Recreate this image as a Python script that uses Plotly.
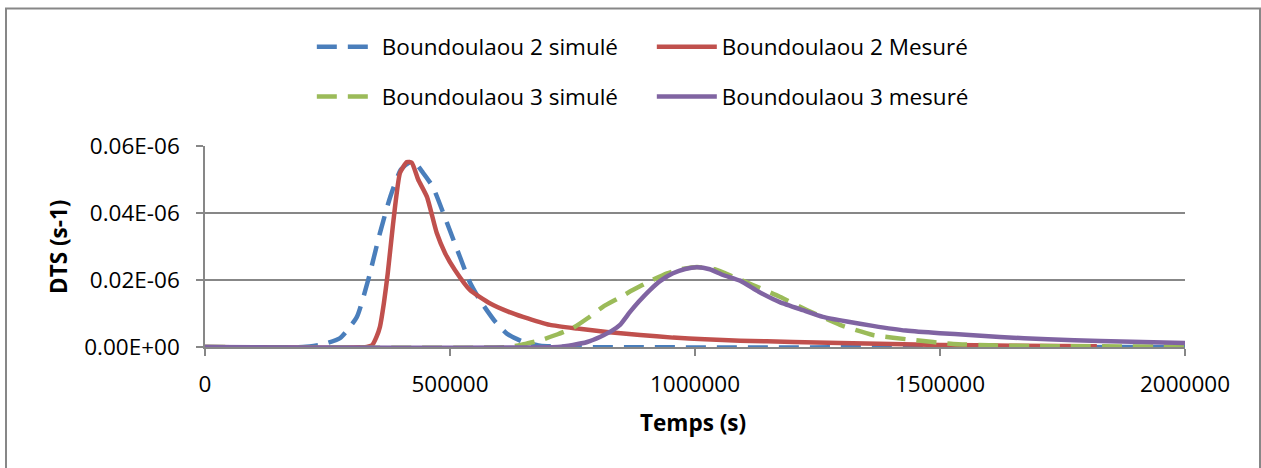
import plotly.graph_objects as go

# ---- data (y in units of 1E-06 s-1, as on the axis labels) ----
b2_sim_t = [0, 200000, 240000, 276000, 310000, 333000, 357000, 378000, 400000, 424000,
            445000, 465000, 494000, 520000, 540000, 561000, 590000, 616000, 650000, 684000,
            750000, 2000000]
b2_sim_y = [0, 0, 0.0008, 0.0027, 0.009, 0.020, 0.034, 0.0448, 0.053, 0.0556,
            0.052, 0.0478, 0.037, 0.027, 0.0195, 0.014, 0.008, 0.004, 0.0015, 0.0004,
            0, 0]

b2_mes_t = [0, 330000, 341000, 350000, 357000, 365000, 373000, 384000, 398000, 412000,
            422000, 435000, 453000, 473000, 490000, 510000, 541000, 582000, 620000, 649000,
            704000, 760000, 820000, 888000, 955000, 1020000, 1092000, 1200000, 1296000,
            1400000, 1500000, 1650000, 1820000]
b2_mes_y = [0, 0, 0.0005, 0.003, 0.006, 0.013, 0.022, 0.037, 0.052, 0.0552,
            0.055, 0.050, 0.0448, 0.034, 0.028, 0.023, 0.017, 0.013, 0.0105, 0.009,
            0.0066, 0.0055, 0.0045, 0.0036, 0.0028, 0.0023, 0.0019, 0.0015, 0.0012,
            0.0009, 0.0006, 0.0004, 0.0002]

b3_sim_t = [0, 620000, 650000, 684000, 720000, 751000, 780000, 812000, 843000, 873000,
            910000, 943000, 970000, 1004000, 1040000, 1078000, 1118000, 1173000, 1229000,
            1296000, 1363000, 1445000, 1527000, 1600000, 1690000, 2000000]
b3_sim_y = [0, 0, 0.0008, 0.002, 0.0038, 0.0057, 0.0085, 0.012, 0.0145, 0.017,
            0.0198, 0.022, 0.0232, 0.0239, 0.0232, 0.021, 0.0185, 0.015, 0.011,
            0.0066, 0.0036, 0.0021, 0.0009, 0.0005, 0.0003, 0.0001]

b3_mes_t = [0, 720000, 751000, 780000, 806000, 830000, 847000, 867000, 885000, 908000,
            930000, 955000, 980000, 1004000, 1030000, 1057000, 1092000, 1130000, 1173000,
            1220000, 1261000, 1310000, 1363000, 1430000, 1500000, 1560000, 1622000,
            1720000, 1827000, 2000000]
b3_mes_y = [0, 0, 0.0006, 0.0015, 0.003, 0.0048, 0.0066, 0.0104, 0.0135, 0.017,
            0.0198, 0.022, 0.0233, 0.0238, 0.0232, 0.0215, 0.0198, 0.0165, 0.0134,
            0.011, 0.009, 0.0076, 0.0063, 0.0049, 0.0041, 0.0036, 0.003,
            0.0023, 0.0018, 0.0012]

x_ticks = [0, 500000, 1000000, 1500000, 2000000]
x_tick_text = ["0", "500000", "1000000", "1500000", "2000000"]
y_ticks = [0, 0.02, 0.04, 0.06]
y_tick_text = ["0.00E+00", "0.02E-06", "0.04E-06", "0.06E-06"]

FONT = "Open Sans"
FS = 22.5
GRID = "#878787"
W = 4.5

fig = go.Figure()
fig.add_trace(go.Scatter(x=b2_sim_t, y=b2_sim_y, mode="lines", name="Boundoulaou 2 simulé",
                         line=dict(color="#4A7EBB", width=W, dash="20px,11px", shape="spline", smoothing=0.5),
                         legend="legend"))
fig.add_trace(go.Scatter(x=b2_mes_t, y=b2_mes_y, mode="lines", name="Boundoulaou 2 Mesuré",
                         line=dict(color="#C0504D", width=W, shape="spline", smoothing=0.5),
                         legend="legend"))
fig.add_trace(go.Scatter(x=b3_sim_t, y=b3_sim_y, mode="lines", name="Boundoulaou 3 simulé",
                         line=dict(color="#9BBB59", width=W, dash="20px,11px", shape="spline", smoothing=0.5),
                         legend="legend2"))
fig.add_trace(go.Scatter(x=b3_mes_t, y=b3_mes_y, mode="lines", name="Boundoulaou 3 mesuré",
                         line=dict(color="#8064A2", width=W, shape="spline", smoothing=0.5),
                         legend="legend2"))

legend_common = dict(orientation="h", xanchor="left", yanchor="middle", bgcolor="rgba(0,0,0,0)",
                     font=dict(family=FONT, size=FS, color="#000"), itemwidth=60,
                     entrywidth=265, xref="paper", yref="paper")

fig.update_layout(
    width=1261, height=468,
    margin=dict(l=205, r=76, t=146, b=121),
    paper_bgcolor="white", plot_bgcolor="white",
    font=dict(family=FONT, size=FS, color="#000"),
    showlegend=True,
    legend=dict(x=0.109, y=1.4925, **legend_common),
    legend2=dict(x=0.109, y=1.2438, **legend_common),
    xaxis=dict(range=[0, 2000000], tickvals=x_ticks, ticktext=x_tick_text,
               showgrid=False, zeroline=False, showline=True, linecolor=GRID, linewidth=1.5,
               ticks="outside", ticklen=7, tickcolor=GRID, tickwidth=1.5,
               tickfont=dict(family=FONT, size=FS, color="#000"), ticklabelstandoff=9),
    yaxis=dict(range=[0, 0.06], tickvals=y_ticks, ticktext=y_tick_text,
               showgrid=True, gridcolor=GRID, gridwidth=1.5, zeroline=False,
               showline=True, linecolor=GRID, linewidth=1.5,
               ticks="outside", ticklen=7, tickcolor=GRID, tickwidth=1.5,
               tickfont=dict(family=FONT, size=FS, color="#000"), ticklabelstandoff=12),
    shapes=[dict(type="rect", xref="paper", yref="paper",
                 x0=(6 - 205) / 980, x1=(1260 - 205) / 980,
                 y0=-0.7, y1=(347 - 8.5) / 201,
                 line=dict(color="#878787", width=2), fillcolor="rgba(0,0,0,0)", layer="below")],
    annotations=[
        dict(text="<b>DTS (s-1)</b>", xref="paper", yref="paper",
             x=(58 - 205) / 980, y=(347 - 247) / 201, textangle=-90, showarrow=False,
             xanchor="center", yanchor="middle", font=dict(family=FONT, size=FS, color="#000")),
        dict(text="<b>Temps (s)</b>", xref="paper", yref="paper",
             x=(693 - 205) / 980, y=(347 - 422) / 201, showarrow=False,
             xanchor="center", yanchor="middle", font=dict(family=FONT, size=FS, color="#000")),
    ],
)

fig.write_html("out.html")
